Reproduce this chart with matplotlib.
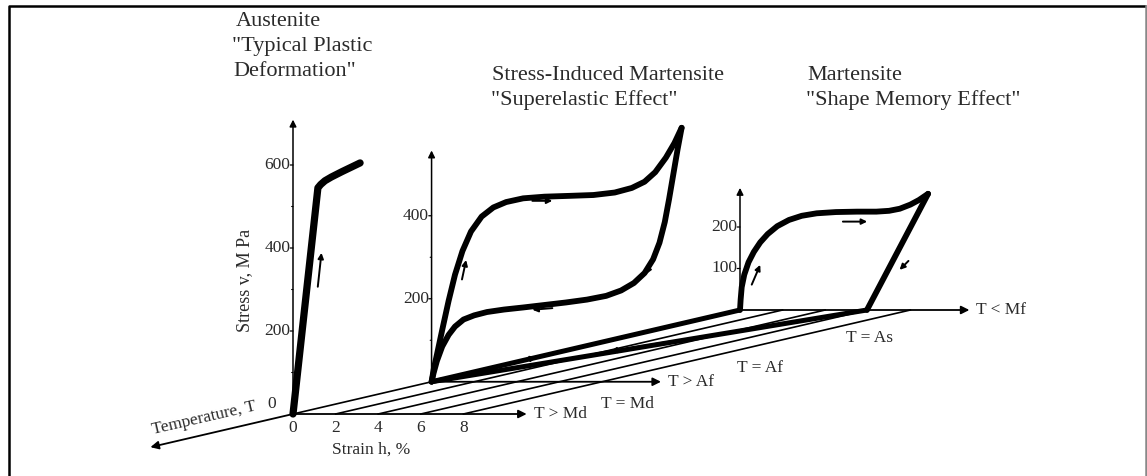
import matplotlib
matplotlib.use('Agg')
import matplotlib.pyplot as plt
from matplotlib.transforms import Affine2D
import numpy as np

# strain in %, stress in MPa
aus_strain = [0, 1.17, 1.3, 1.5, 1.8, 2.3, 3.15]
aus_stress = [0, 545, 553, 562, 571, 584, 605]

se_load_strain = [0, 0.1, 0.25, 0.5, 0.8, 1.1, 1.45, 1.85, 2.35, 2.9, 3.5, 4.3, 5.3, 6.5, 7.6,
                  8.6, 9.4, 10.0, 10.5, 11.0, 11.4, 11.74]
se_load_stress = [0, 30, 65, 125, 195, 258, 315, 362, 398, 420, 433, 442, 446, 448, 450,
                  456, 467, 482, 505, 540, 575, 612]
se_unload_strain = [11.74, 11.55, 11.35, 11.15, 10.95, 10.7, 10.4, 10.0, 9.5, 8.9, 8.2, 7.3, 6.3,
                    5.3, 4.3, 3.4, 2.6, 2.0, 1.5, 1.1, 0.8, 0.5, 0.25, 0.1, 0]
se_unload_stress = [612, 560, 500, 440, 385, 335, 295, 262, 238, 220, 207, 198, 191,
                    185, 179, 174, 168, 160, 150, 133, 113, 85, 50, 22, 0]

sme_load_strain = [0, 0.03, 0.08, 0.2, 0.4, 0.65, 0.95, 1.3, 1.75, 2.3, 2.9, 3.6, 4.5, 5.5, 6.4,
                   7.0, 7.5, 8.0, 8.4, 8.83]
sme_load_stress = [0, 25, 55, 85, 115, 140, 163, 183, 202, 217, 227, 233, 236, 237, 237,
                   239, 244, 254, 265, 280]
sme_unload_strain = [8.83, 5.96]
sme_unload_stress = [280, 0]

strain_ticks = [0, 2, 4, 6, 8]
panel_temp = [0.0, 0.31, 1.0]          # position of each panel along the temperature axis
panel_axis_len = [11.1, 10.9, 10.9]
panel_stress_top = [716, 564, 301]
panel_major = [[200, 400, 600], [200, 400], [100, 200]]
panel_minor = [[100, 300, 500], [100, 300], []]
panel_temp_labels = ['T > Md', 'T > Af', 'T < Mf']
base_labels = ['T = Md', 'T = Af', 'T = As']

# oblique projection (pixels)
X0, Y0 = 293, 414
SX, SY = 21.3, 0.415
TX, TY = 447, -104

W, H = 1147, 476
fig = plt.figure(figsize=(W / 100, H / 100), dpi=100)
ax = fig.add_axes([0, 0, 1, 1])
ax.set_xlim(0, W)
ax.set_ylim(H, 0)
ax.axis('off')

def panel_tr(t):
    return Affine2D().scale(SX, -SY).translate(X0 + TX * t, Y0 + TY * t) + ax.transData

base_tr = Affine2D(np.array([[SX, TX, X0], [0, TY, Y0], [0, 0, 1.0]])) + ax.transData

ink = 'black'
txt = '#2a2a2a'
serif = 'Liberation Serif'
fs_small = 12.5

# frame
ax.plot([9, 9, 1146], [480, 6, 6], color='black', lw=1.8, solid_capstyle='butt')
ax.plot([1146, 1146], [6, 480], color='#888888', lw=1.8)

# base plane grid
for s in strain_ticks:
    ax.plot([s, s], [0, 1], color=ink, lw=1.2, transform=base_tr)

# temperature axis
ax.annotate('', xy=(0, -0.325), xytext=(0, 0), xycoords=base_tr,
            arrowprops=dict(arrowstyle='-|>', color=ink, lw=1.3, mutation_scale=12))
ax.text(204, 418, 'Temperature, T', rotation=13, ha='center', va='center',
        fontsize=fs_small, family=serif, color=txt)

# thick paths on the base plane
ax.plot([0, 0], [panel_temp[1], 1], color=ink, lw=3.6, transform=base_tr, solid_capstyle='round')
ax.plot([0, sme_unload_strain[-1]], [panel_temp[1], 1], color=ink, lw=3.6, transform=base_tr,
        solid_capstyle='round')

for i, t in enumerate(panel_temp):
    tr = panel_tr(t)
    # strain axis
    ax.annotate('', xy=(panel_axis_len[i], 0), xytext=(0, 0), xycoords=tr,
                arrowprops=dict(arrowstyle='-|>', color=ink, lw=1.3, mutation_scale=12))
    ax.annotate(panel_temp_labels[i], xy=(panel_axis_len[i], 0), xycoords=tr,
                xytext=(3, 0), textcoords='offset points', ha='left', va='center',
                fontsize=fs_small, family=serif, color=txt)
    # stress axis
    ax.annotate('', xy=(0, panel_stress_top[i]), xytext=(0, 0), xycoords=tr,
                arrowprops=dict(arrowstyle='-|>', color=ink, lw=1.1, mutation_scale=10))
    for v in panel_major[i]:
        ax.annotate('', xy=(0, v), xytext=(-4, 0), xycoords=tr, textcoords='offset points',
                    arrowprops=dict(arrowstyle='-', color=ink, lw=0.9))
        ax.annotate(str(v), xy=(0, v), xycoords=tr, xytext=(-2, 0), textcoords='offset points',
                    ha='right', va='center', fontsize=fs_small, family=serif, color=txt)
    for v in panel_minor[i]:
        ax.annotate('', xy=(0, v), xytext=(-3, 0), xycoords=tr, textcoords='offset points',
                    arrowprops=dict(arrowstyle='-', color=ink, lw=0.8))

tr1, tr2, tr3 = [panel_tr(t) for t in panel_temp]

# panel 1 extras
ax.annotate('0', xy=(0, 0), xycoords=tr1, xytext=(-12, 7), textcoords='offset points',
            ha='right', va='center', fontsize=fs_small, family=serif, color=txt)
for s in strain_ticks:
    ax.annotate(str(s), xy=(s, 0), xycoords=tr1, xytext=(0, -10), textcoords='offset points',
                ha='center', va='center', fontsize=fs_small, family=serif, color=txt)
ax.text(371, 450, 'Strain h, %', ha='center', va='center', fontsize=fs_small, family=serif, color=txt)
ax.text(245, 280, 'Stress v, M Pa', rotation=90, ha='center', va='center',
        fontsize=13, family=serif, color=txt)

# curves
curve = dict(color=ink, solid_joinstyle='round', solid_capstyle='round')
ax.plot(aus_strain, aus_stress, lw=5.2, transform=tr1, **curve)
ax.plot(se_load_strain, se_load_stress, lw=4.2, transform=tr2, **curve)
ax.plot(se_unload_strain, se_unload_stress, lw=4.2, transform=tr2, **curve)
ax.plot(sme_load_strain, sme_load_stress, lw=4.2, transform=tr3, **curve)
ax.plot(sme_unload_strain, sme_unload_stress, lw=4.2, transform=tr3, **curve)

# direction arrows
small = dict(arrowstyle='-|>', color=ink, lw=1.4, mutation_scale=8)
for tr, tail, head in [
    (tr1, (1.15, 300), (1.35, 395)),
    (tr2, (1.4, 240), (1.65, 300)),
    (tr2, (4.6, 436), (5.8, 436)),
    (tr2, (5.8, 178), (4.6, 173)),
    (tr2, (10.6, 311), (10.0, 253)),
    (tr3, (0.5, 55), (1.0, 115)),
    (tr3, (4.7, 213), (6.1, 213)),
    (tr3, (8.0, 123), (7.4, 92)),
]:
    ax.annotate('', xy=head, xytext=tail, xycoords=tr, arrowprops=small)
ax.annotate('', xy=(0, 0.55), xytext=(0, 0.45), xycoords=base_tr, arrowprops=small)
ax.annotate('', xy=(2.2, 0.6), xytext=(3.1, 0.7), xycoords=base_tr, arrowprops=small)

# base labels
for lab, (x, y) in zip(base_labels, [(601, 404), (737, 368), (846, 338)]):
    ax.text(x, y, lab, ha='left', va='center', fontsize=fs_small, family=serif, color=txt)

# titles
title_kw = dict(ha='left', va='center', fontsize=16, family=serif, color=txt)
ax.text(236, 22, 'Austenite', **title_kw)
ax.text(232, 47, '"Typical Plastic', **title_kw)
ax.text(233, 71, 'Deformation"', **title_kw)
ax.text(492, 75, 'Stress-Induced Martensite', **title_kw)
ax.text(491, 100, '"Superelastic Effect"', **title_kw)
ax.text(807, 75, 'Martensite', **title_kw)
ax.text(806, 100, '"Shape Memory Effect"', **title_kw)

fig.savefig('out.png', dpi=100)
